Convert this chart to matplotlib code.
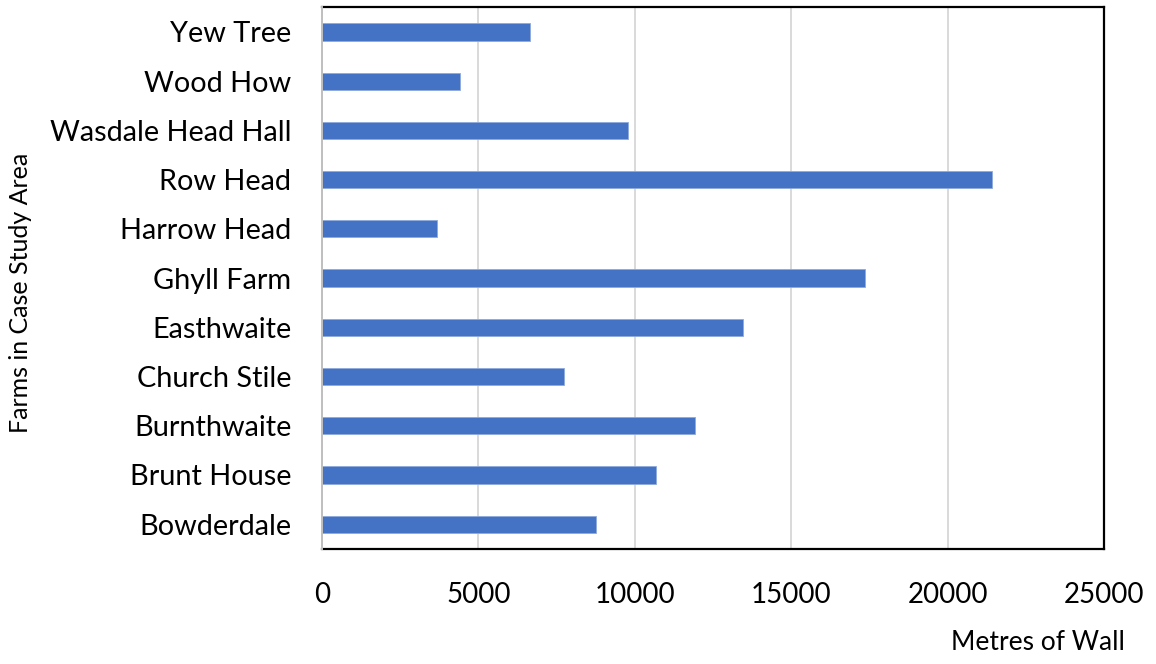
import matplotlib.pyplot as plt

# farms listed bottom to top, as drawn
farms = ['Bowderdale', 'Brunt House', 'Burnthwaite', 'Church Stile', 'Easthwaite',
         'Ghyll Farm', 'Harrow Head', 'Row Head', 'Wasdale Head Hall', 'Wood How',
         'Yew Tree']
metres = [8760, 10660, 11920, 7750, 13440, 17350, 3680, 21420, 9770, 4410, 6640]
xticks = [0, 5000, 10000, 15000, 20000, 25000]

plt.rcParams['font.family'] = ['Lato', 'DejaVu Sans']

fig = plt.figure(figsize=(11.56, 6.64), dpi=100)
ax = fig.add_axes([0.2785, 0.1736, 0.6768, 0.8154])

ax.barh(range(len(farms)), metres, height=0.35, color='#4472C4',
        edgecolor='#8faadc', linewidth=0.6, zorder=3)

ax.set_xlim(0, 25000)
ax.set_ylim(-0.5, len(farms) - 0.5)
ax.set_xticks(xticks)
ax.set_xticklabels([str(t) for t in xticks])
ax.set_yticks(range(len(farms)))
ax.set_yticklabels(farms)
ax.tick_params(axis='x', length=0, labelsize=20, pad=24)
ax.tick_params(axis='y', length=0, labelsize=20.8, pad=22)

ax.grid(axis='x', color='#d9d9d9', linewidth=1.4, zorder=0)
ax.set_axisbelow(True)

for side in ['top', 'right', 'bottom']:
    ax.spines[side].set_color('black')
    ax.spines[side].set_linewidth(1.6)
ax.spines['left'].set_color('#bfbfbf')
ax.spines['left'].set_linewidth(1.4)
ax.spines['left'].set_zorder(4)

fig.text(1125 / 1156, 1 - 642 / 664, 'Metres of Wall', fontsize=19,
         ha='right', va='center')
fig.text(21 / 1156, 1 - 293 / 664, 'Farms in Case Study Area', fontsize=18,
         rotation=90, ha='center', va='center')

fig.savefig('out.png', dpi=100)
